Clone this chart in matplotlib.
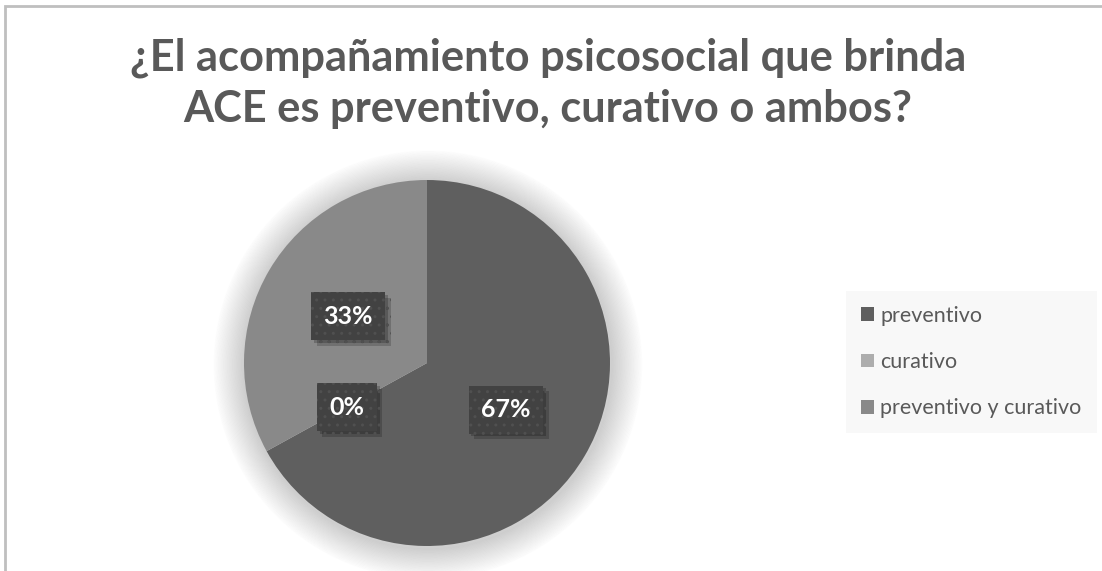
import matplotlib
matplotlib.use("Agg")
import numpy as np
import matplotlib.pyplot as plt
from matplotlib.patches import Patch, Rectangle, Circle
import matplotlib.patheffects as pe

plt.rcParams['font.family'] = ['Lato', 'DejaVu Sans']

# data
categories = ['preventivo', 'curativo', 'preventivo y curativo']
values = [67, 33, 0]
pie_colors = ['#5f5f5f', '#898989', '#898989']
legend_colors = ['#5f5f5f', '#adadad', '#898989']
# order in which the slices sit around the pie (zero slice lies between the other two)
pie_order = [0, 2, 1]
title = '¿El acompañamiento psicosocial que brinda\nACE es preventivo, curativo o ambos?'

W, H = 1102, 571
fig = plt.figure(figsize=(W / 100, H / 100), dpi=100)
fig.patch.set_facecolor('white')

# chart border (only top and left visible)
fig.add_artist(Rectangle((4.5 / W, -0.05), 1.2, (H - 5.5) / H + 0.05, transform=fig.transFigure,
                         fill=False, edgecolor='#bfbfbf', linewidth=2))

fig.text(0.497, (H - 38) / H, title, ha='center', va='top', fontsize=31.2, fontweight='bold',
         color='#595959', linespacing=1.33)

# pie axes: centre (427, 363) px, radius 183 px
cx, cy, r = 427, 363, 183
ax = fig.add_axes([(cx - r) / W, (H - cy - r) / H, 2 * r / W, 2 * r / H])

# soft shadow around the pie
n = 24
for k in range(n):
    rad = 1.0 + 0.007 * (n - k)
    ax.add_patch(Circle((0.005, -0.01), rad, color='black', alpha=0.007, zorder=0, clip_on=False))

wedges, _ = ax.pie([values[i] for i in pie_order], colors=[pie_colors[i] for i in pie_order],
                   startangle=90, counterclock=False, radius=1.0, wedgeprops=dict(linewidth=0))
for w in wedges:
    w.set_zorder(2)
ax.set_xlim(-1, 1)
ax.set_ylim(-1, 1)
ax.axis('off')

# data labels
for w, i in zip(wedges, pie_order):
    mid = np.deg2rad((w.theta1 + w.theta2) / 2)
    t = ax.text(0.5 * np.cos(mid), 0.5 * np.sin(mid), f'{values[i]}%', ha='center', va='center',
                fontsize=18, fontweight='bold', color='white', zorder=5,
                bbox=dict(boxstyle='square,pad=0.5', facecolor='#424242', edgecolor='#505050',
                          linewidth=0, hatch='..'))
    t.get_bbox_patch().set_path_effects([
        pe.SimplePatchShadow(offset=(4, -4), shadow_rgbFace='black', alpha=0.18),
        pe.SimplePatchShadow(offset=(2, -2), shadow_rgbFace='black', alpha=0.2),
        pe.Normal()])

handles = [Patch(facecolor=c, edgecolor='none') for c in legend_colors]
leg = fig.legend(handles, categories, loc='center left', bbox_to_anchor=(846 / W, (H - 362) / H),
                 frameon=True, fontsize=15.5, labelcolor='#595959', handlelength=0.6,
                 handleheight=0.6, handletextpad=0.3, labelspacing=1.22, borderpad=0.7,
                 borderaxespad=0, fancybox=False)
leg.get_frame().set_facecolor('#f7f7f7')
leg.get_frame().set_edgecolor('none')

fig.savefig('out.png', dpi=100)
